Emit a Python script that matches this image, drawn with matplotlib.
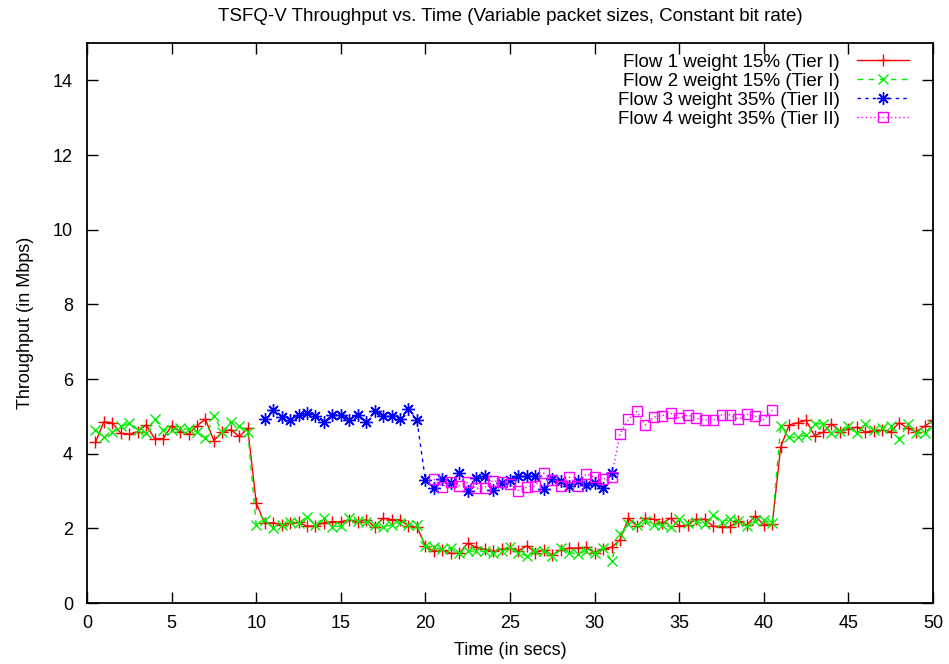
import matplotlib
matplotlib.use("Agg")
import matplotlib.pyplot as plt
import numpy as np

plt.rcParams.update(
    {
        "font.family": ["Liberation Sans", "DejaVu Sans"],
        "font.size": 13,
        "axes.linewidth": 1.3,
        "xtick.direction": "in",
        "ytick.direction": "in",
        "xtick.major.size": 8,
        "ytick.major.size": 8,
        "xtick.major.width": 1.0,
        "ytick.major.width": 1.0,
        "xtick.top": True,
        "ytick.right": True,
    }
)

# samples every 0.5 s
t12 = np.arange(1, 101) * 0.5
t3 = np.arange(21, 63) * 0.5
t4 = np.arange(41, 82) * 0.5

flow1 = [
    4.30, 4.86, 4.82, 4.55, 4.52, 4.59, 4.77, 4.40, 4.40, 4.75,
    4.59, 4.52, 4.75, 4.92, 4.35, 4.59, 4.64, 4.46, 4.68, 2.68,
    2.13, 2.15, 2.09, 2.15, 2.16, 2.06, 2.06, 2.15, 2.18, 2.18,
    2.22, 2.18, 2.23, 2.04, 2.27, 2.23, 2.23, 2.06, 2.04, 1.52,
    1.38, 1.42, 1.33, 1.33, 1.60, 1.49, 1.44, 1.38, 1.44, 1.47,
    1.40, 1.53, 1.35, 1.42, 1.29, 1.42, 1.47, 1.47, 1.49, 1.35,
    1.44, 1.49, 1.69, 2.27, 2.06, 2.27, 2.24, 2.14, 2.27, 2.06,
    2.09, 2.24, 2.24, 2.06, 2.04, 2.04, 2.20, 2.09, 2.33, 2.09,
    2.11, 4.18, 4.77, 4.83, 4.89, 4.48, 4.57, 4.80, 4.59, 4.66,
    4.71, 4.58, 4.62, 4.64, 4.59, 4.83, 4.68, 4.59, 4.73, 4.89,
]
flow2 = [
    4.64, 4.44, 4.58, 4.73, 4.82, 4.64, 4.55, 4.93, 4.64, 4.64,
    4.68, 4.65, 4.58, 4.41, 5.02, 4.59, 4.86, 4.73, 4.59, 2.09,
    2.22, 2.02, 2.09, 2.18, 2.13, 2.31, 2.09, 2.27, 2.04, 2.06,
    2.27, 2.20, 2.18, 2.09, 2.04, 2.09, 2.15, 2.09, 2.09, 1.52,
    1.49, 1.44, 1.47, 1.35, 1.38, 1.40, 1.38, 1.33, 1.38, 1.49,
    1.35, 1.26, 1.40, 1.40, 1.26, 1.47, 1.35, 1.31, 1.40, 1.33,
    1.47, 1.13, 1.85, 2.12, 2.08, 2.20, 2.09, 2.09, 2.04, 2.24,
    2.15, 2.18, 2.11, 2.36, 2.18, 2.24, 2.20, 2.06, 2.20, 2.22,
    2.13, 4.75, 4.44, 4.44, 4.50, 4.80, 4.80, 4.55, 4.62, 4.73,
    4.55, 4.80, 4.64, 4.68, 4.73, 4.39, 4.80, 4.55, 4.55, 4.78,
]
flow3 = [
    4.92, 5.17, 4.97, 4.89, 5.04, 5.08, 5.02, 4.84, 5.04, 5.04,
    4.89, 5.04, 4.84, 5.13, 5.02, 5.01, 4.93, 5.20, 4.89, 3.29,
    3.07, 3.32, 3.21, 3.49, 3.01, 3.34, 3.40, 3.03, 3.21, 3.30,
    3.39, 3.39, 3.39, 3.05, 3.32, 3.28, 3.14, 3.28, 3.16, 3.21,
    3.09, 3.49,
]
flow4 = [
    3.32, 3.12, 3.23, 3.14, 3.23, 3.07, 3.09, 3.28, 3.23, 3.19,
    3.01, 3.10, 3.14, 3.48, 3.30, 3.14, 3.37, 3.14, 3.46, 3.37,
    3.32, 3.37, 4.53, 4.92, 5.13, 4.77, 4.98, 5.02, 5.08, 4.95,
    5.04, 4.95, 4.91, 4.89, 5.04, 5.04, 4.92, 5.06, 5.00, 4.91,
    5.16,
]

labels = [
    "Flow 1 weight 15% (Tier I)",
    "Flow 2 weight 15% (Tier I)",
    "Flow 3 weight 35% (Tier II)",
    "Flow 4 weight 35% (Tier II)",
]

fig = plt.figure(figsize=(9.49, 6.64), dpi=100)
ax = fig.add_axes([87 / 949, 1 - 603 / 664, (933 - 87) / 949, (603 - 43) / 664])

ax.plot(t12, flow1, color="#ff0000", lw=1.0, ls="-", marker="+", ms=9,
        mew=1.0, label=labels[0])
ax.plot(t12, flow2, color="#00ee00", lw=1.0, ls=(0, (4, 4)), marker="x",
        ms=7, mew=1.0, label=labels[1])
ax.plot(t3, flow3, color="#0000ff", lw=1.0, ls=(0, (2.5, 3)),
        marker=(8, 2, 0), ms=9, mew=1.0, label=labels[2])
ax.plot(t4, flow4, color="#ff00ff", lw=1.0, ls=(0, (1, 2)), marker="s",
        ms=7, mew=1.0, mfc="none", label=labels[3])

ax.set_xlim(0, 50)
ax.set_ylim(0, 15)
ax.set_xticks(np.arange(0, 51, 5))
ax.set_yticks(np.arange(0, 15, 2))
ax.tick_params(axis="x", pad=9, labelsize=13)
ax.tick_params(axis="y", pad=10, labelsize=13)

ax.set_xlabel("Time (in secs)", labelpad=7)
ax.set_ylabel("Throughput (in Mbps)", labelpad=14)
ax.set_title("TSFQ-V Throughput vs. Time (Variable packet sizes, Constant bit rate)",
             fontsize=13.5, pad=16)

ax.legend(loc="upper right", frameon=False, markerfirst=False,
          handlelength=2.8, labelspacing=0.1, borderaxespad=1.0,
          borderpad=0.4, handletextpad=0.9, fontsize=13.5,
          bbox_to_anchor=(1.003, 1.028))

fig.savefig("out.png", dpi=100)
